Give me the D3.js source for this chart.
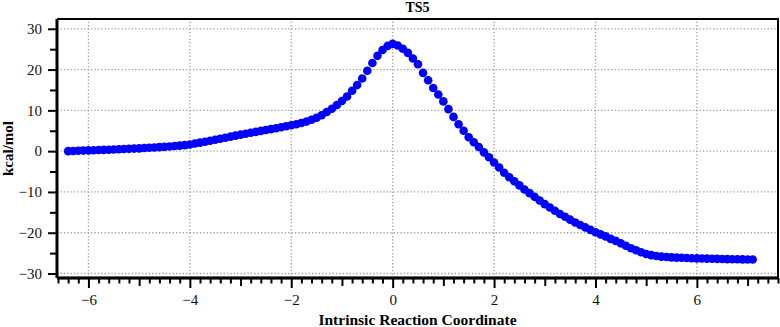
<!DOCTYPE html>
<html>
<head>
<meta charset="utf-8">
<script src="https://cdn.jsdelivr.net/npm/d3@7"></script>
<style>
html,body{margin:0;padding:0;background:#fff;}
svg{display:block;}
svg text{font-family:'Liberation Serif','Times New Roman',serif;}
</style>
</head>
<body>
<svg id="chart" width="780" height="327"></svg>
<script>
// ---- data ----
const chartTitle = "TS5";
const xTitle = "Intrinsic Reaction Coordinate";
const yTitle = "kcal/mol";
const xTickValues = [-6, -4, -2, 0, 2, 4, 6];
const yTickValues = [-30, -20, -10, 0, 10, 20, 30];
const xDomain = [-6.62, 7.6];
const yDomain = [-31.1, 32.4];

const ircCoord = [
  -6.4,-6.3,-6.2,-6.1,-6.0,-5.9,-5.8,-5.7,-5.6,-5.5,-5.4,-5.3,-5.2,-5.1,-5.0,
  -4.9,-4.8,-4.7,-4.6,-4.5,-4.4,-4.3,-4.2,-4.1,-4.0,-3.9,-3.8,-3.7,-3.6,-3.5,
  -3.4,-3.3,-3.2,-3.1,-3.0,-2.9,-2.8,-2.7,-2.6,-2.5,-2.4,-2.3,-2.2,-2.1,-2.0,
  -1.9,-1.8,-1.7,-1.6,-1.5,-1.4,-1.3,-1.2,-1.1,-1.0,-0.9,-0.8,-0.7,-0.6,-0.5,
  -0.4,-0.3,-0.2,-0.1,0.0,
  0.1,0.2,0.3,0.4,0.5,0.6,0.7,0.8,0.9,1.0,1.1,1.2,1.3,1.4,1.5,1.6,1.7,1.8,1.9,2.0,
  2.1,2.2,2.3,2.4,2.5,2.6,2.7,2.8,2.9,3.0,3.1,3.2,3.3,3.4,3.5,3.6,3.7,3.8,3.9,4.0,
  4.1,4.2,4.3,4.4,4.5,4.6,4.7,4.8,4.9,5.0,5.1,5.2,5.3,5.4,5.5,5.6,5.7,5.8,5.9,6.0,
  6.1,6.2,6.3,6.4,6.5,6.6,6.7,6.8,6.9,7.0,7.1
];
const energy = [
  0.00,0.05,0.10,0.14,0.19,0.23,0.27,0.31,0.36,0.41,0.46,0.51,0.57,0.63,0.69,
  0.76,0.83,0.90,0.98,1.06,1.15,1.25,1.36,1.48,1.62,1.88,2.10,2.32,2.56,2.80,
  3.05,3.30,3.55,3.80,4.04,4.27,4.50,4.73,4.96,5.18,5.40,5.62,5.85,6.10,6.35,
  6.60,6.90,7.25,7.70,8.20,8.80,9.60,10.40,11.30,12.30,13.40,14.80,16.20,17.80,19.70,
  21.60,23.40,24.80,25.80,26.30,
  25.90,25.10,24.10,22.70,21.30,19.20,17.40,15.50,13.90,12.20,10.30,8.40,6.60,5.00,3.40,2.20,1.00,-0.30,-1.50,-2.80,
  -4.00,-5.30,-6.40,-7.40,-8.40,-9.40,-10.30,-11.20,-12.10,-13.00,-13.80,-14.60,-15.40,-16.10,-16.80,-17.50,-18.10,-18.70,-19.30,-19.90,
  -20.40,-20.90,-21.50,-22.00,-22.60,-23.20,-23.80,-24.30,-24.80,-25.20,-25.50,-25.70,-25.85,-25.95,-26.05,-26.10,-26.15,-26.20,-26.25,-26.30,
  -26.33,-26.36,-26.39,-26.42,-26.45,-26.48,-26.50,-26.52,-26.54,-26.56,-26.58
];

// ---- layout ----
const W = 780, H = 327;
const m = {left: 57, right: 2, top: 19, bottom: 49};
const svg = d3.select("#chart");
const x = d3.scaleLinear().domain(xDomain).range([m.left, W - m.right]);
const y = d3.scaleLinear().domain(yDomain).range([H - m.bottom, m.top]);
const font = "'Liberation Serif','Times New Roman',serif";

// grid
const grid = svg.append("g").attr("stroke", "#a0a0a0").attr("stroke-width", 1.3)
  .attr("stroke-dasharray", "1.3,2.1");
grid.selectAll("line.v").data(xTickValues).join("line").attr("class", "v")
  .attr("x1", d => x(d)).attr("x2", d => x(d)).attr("y1", y.range()[0]).attr("y2", y.range()[1]);
grid.selectAll("line.h").data(yTickValues).join("line").attr("class", "h")
  .attr("x1", x.range()[0]).attr("x2", x.range()[1]).attr("y1", d => y(d)).attr("y2", d => y(d));

// points
const pts = ircCoord.map((c, i) => ({c, e: energy[i]}));
svg.append("g").selectAll("circle").data(pts).join("circle")
  .attr("cx", d => x(d.c)).attr("cy", d => y(d.e)).attr("r", 4.3)
  .attr("fill", "#0000ff");

// frame (top & right)
svg.append("path")
  .attr("d", `M${x.range()[0]},${y.range()[1]}H${x.range()[1]}V${y.range()[0]}`)
  .attr("fill", "none").attr("stroke", "#000").attr("stroke-width", 2);

// x axis: major, medium, minor ticks
const xMinor = d3.range(-66, 77, 2).map(v => v / 10).filter(v => Math.abs(v - Math.round(v)) > 1e-6);
const xMedium = [-5, -3, -1, 1, 3, 5, 7];
const xAxisG = svg.append("g").attr("transform", `translate(0,${y.range()[0]})`);
xAxisG.call(d3.axisBottom(x).tickValues(xMinor).tickSize(5.5).tickFormat(""));
xAxisG.call(g => g.append("g").call(d3.axisBottom(x).tickValues(xMedium).tickSize(8).tickFormat("")));
xAxisG.call(g => g.append("g").call(d3.axisBottom(x).tickValues(xTickValues).tickSize(10).tickPadding(6).tickFormat(d3.format("d"))));
xAxisG.selectAll("g").attr("font-family", null);
xAxisG.attr("font-family", null);
xAxisG.selectAll(".domain").attr("stroke-width", 2.6).attr("d", `M${x.range()[0]},0H${x.range()[1]}`);
xAxisG.selectAll(".tick line").attr("stroke-width", 2);
xAxisG.selectAll("text").style("font-family", font).attr("font-size", 15).attr("fill", "#111");

// y axis
const yMinor = [-25, -15, -5, 5, 15, 25];
const yAxisG = svg.append("g").attr("transform", `translate(${x.range()[0]},0)`);
yAxisG.call(d3.axisLeft(y).tickValues(yMinor).tickSize(7).tickFormat(""));
yAxisG.call(g => g.append("g").call(d3.axisLeft(y).tickValues(yTickValues).tickSize(9).tickPadding(6).tickFormat(d3.format("d"))));
yAxisG.selectAll(".domain").attr("stroke-width", 2.6).attr("d", `M0,${y.range()[0]}V${y.range()[1]}`);
yAxisG.selectAll(".tick line").attr("stroke-width", 2);
yAxisG.selectAll("text").style("font-family", font).attr("font-size", 15).attr("fill", "#111");

// titles
svg.append("text").attr("x", (x.range()[0] + x.range()[1]) / 2).attr("y", 12)
  .attr("text-anchor", "middle").style("font-family", font).attr("font-weight", "bold")
  .attr("font-size", 14).text(chartTitle);
svg.append("text").attr("x", (x.range()[0] + x.range()[1]) / 2).attr("y", 325)
  .attr("text-anchor", "middle").style("font-family", font).attr("font-weight", "bold")
  .attr("font-size", 15.5).text(xTitle);
svg.append("text").attr("transform", `translate(13,${(y.range()[0] + y.range()[1]) / 2}) rotate(-90)`)
  .attr("text-anchor", "middle").style("font-family", font).attr("font-weight", "bold")
  .attr("font-size", 15).text(yTitle);
</script>
</body>
</html>
